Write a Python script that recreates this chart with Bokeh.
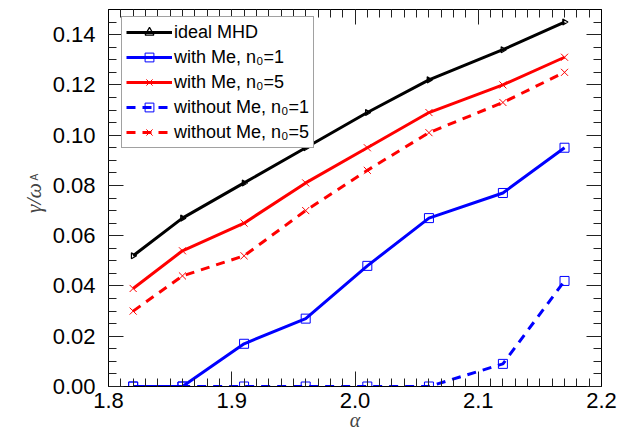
import math
from bokeh.plotting import figure
from bokeh.models import (Range1d, LinearAxis, SingleIntervalTicker, FixedTicker, Legend,
                          LegendItem, ColumnDataSource, NumeralTickFormatter,
                          CustomJSTickFormatter)
from bokeh.embed import file_html
from bokeh.resources import INLINE

# growth rate vs alpha
alpha = [1.82, 1.86, 1.91, 1.96, 2.01, 2.06, 2.12, 2.17]
ideal_mhd = [0.052, 0.067, 0.081, 0.095, 0.109, 0.122, 0.134, 0.145]
with_me_n1 = [0.0, 0.0, 0.017, 0.027, 0.048, 0.067, 0.077, 0.095]
with_me_n5 = [0.039, 0.054, 0.065, 0.081, 0.095, 0.109, 0.120, 0.131]
without_me_n1 = [0.0, 0.0, 0.0, 0.0, 0.0, 0.0, 0.009, 0.042]
without_me_n5 = [0.030, 0.044, 0.052, 0.070, 0.086, 0.101, 0.113, 0.125]

labels = ["ideal MHD", "with Me, n\u2080=1", "with Me, n\u2080=5",
          "without Me, n\u2080=1", "without Me, n\u2080=5"]

FONT = "Liberation Sans"
SERIF = "Liberation Serif"

p = figure(width=621, height=433, output_backend="svg", toolbar_location=None,
           x_range=Range1d(1.8, 2.2), y_range=Range1d(0.0, 0.15),
           x_axis_location=None, y_axis_location=None,
           min_border_left=108, min_border_right=20, min_border_top=9, min_border_bottom=47)
p.grid.visible = False
p.outline_line_color = "black"
p.outline_line_width = 1
p.background_fill_color = "white"
p.border_fill_color = "white"

blank = CustomJSTickFormatter(code="return ''")


def make_axis(interval, minor, labelled, fmt):
    ax = LinearAxis(ticker=SingleIntervalTicker(interval=interval, num_minor_ticks=minor))
    ax.major_tick_in = 15
    ax.major_tick_out = 0
    ax.minor_tick_in = 8
    ax.minor_tick_out = 0
    ax.axis_line_color = "black"
    ax.major_tick_line_color = "#222222"
    ax.minor_tick_line_color = "#222222"
    if labelled:
        ax.formatter = NumeralTickFormatter(format=fmt)
        ax.major_label_text_font = FONT
        ax.major_label_text_font_size = "22px"
        ax.major_label_text_color = "black"
    else:
        ax.formatter = blank
        ax.major_label_standoff = 0
    return ax


# bottom axis with the alpha title
xb = make_axis(0.1, 10, True, "0.0")
xb.major_label_standoff = 6
xb.axis_label = "\u03b1"
xb.axis_label_text_font = SERIF
xb.axis_label_text_font_style = "italic"
xb.axis_label_text_font_size = "20px"
xb.axis_label_standoff = -2

# left axis with the gamma/omega title
yl = make_axis(0.02, 4, True, "0.00")
yl.major_label_standoff = 13
yl.axis_label = "\u03b3/\u03c9"
yl.axis_label_text_font = SERIF
yl.axis_label_text_font_style = "italic"
yl.axis_label_text_font_size = "22px"
yl.axis_label_standoff = 4

# subscript A of omega, carried by a bare outer axis
ya = LinearAxis(ticker=FixedTicker(ticks=[]), formatter=blank)
ya.axis_line_color = None
ya.major_tick_line_color = None
ya.minor_tick_line_color = None
ya.axis_label = "\u00a0" * 15 + "A"
ya.axis_label_text_font = FONT
ya.axis_label_text_font_style = "normal"
ya.axis_label_text_font_size = "10px"
ya.axis_label_standoff = -22

p.add_layout(xb, "below")
p.add_layout(yl, "left")
p.add_layout(ya, "left")
p.add_layout(make_axis(0.1, 10, False, None), "above")
p.add_layout(make_axis(0.02, 4, False, None), "right")

src = ColumnDataSource(dict(x=alpha, a=ideal_mhd, b=with_me_n1, c=with_me_n5,
                            d=without_me_n1, e=without_me_n5))

items = []
specs = [
    ("a", "black", "solid", "triangle", 6),
    ("b", "blue", "solid", "square", 9),
    ("c", "red", "solid", "x", 10),
    ("d", "blue", "9 7", "square", 9),
    ("e", "red", "9 7", "x", 10),
]
for (col, color, dash, marker, size), lab in zip(specs, labels):
    ln = p.line("x", col, source=src, line_color=color, line_width=3, line_dash=dash)
    if marker == "triangle":
        sc = p.scatter("x", col, source=src, marker="triangle", angle=-math.pi / 2,
                       size=size, line_color=color, fill_color=None, line_width=1.2)
    else:
        sc = p.scatter("x", col, source=src, marker=marker, size=size,
                       line_color=color, fill_color=None, line_width=1)
    items.append(LegendItem(label=lab, renderers=[ln, sc]))

legend = Legend(items=items, location=(13, 238), glyph_width=46, glyph_height=22,
                label_standoff=2, spacing=3, padding=4, margin=0,
                label_text_font=FONT, label_text_font_size="18px",
                label_text_color="black", border_line_color="#444444",
                border_line_width=1, background_fill_alpha=1.0)
p.add_layout(legend, "center")

open("out.html", "w").write(file_html(p, INLINE))
